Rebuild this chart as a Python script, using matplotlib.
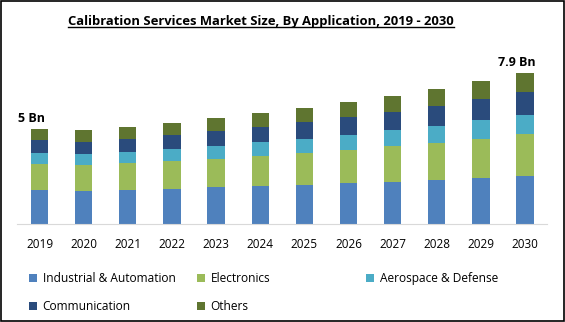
import numpy as np
import matplotlib.pyplot as plt
from matplotlib.patches import Patch, Rectangle
from matplotlib.lines import Line2D

years = ['2019', '2020', '2021', '2022', '2023', '2024',
         '2025', '2026', '2027', '2028', '2029', '2030']
industrial = [1.79, 1.74, 1.79, 1.84, 1.95, 2.00, 2.05, 2.16, 2.21, 2.32, 2.42, 2.53]
electronics = [1.37, 1.37, 1.42, 1.47, 1.47, 1.58, 1.68, 1.74, 1.89, 1.95, 2.05, 2.21]
aerospace = [0.58, 0.58, 0.58, 0.63, 0.68, 0.74, 0.74, 0.79, 0.84, 0.89, 1.00, 1.00]
communication = [0.68, 0.63, 0.68, 0.74, 0.79, 0.79, 0.89, 0.95, 0.95, 1.05, 1.10, 1.21]
others = [0.58, 0.63, 0.63, 0.63, 0.68, 0.74, 0.74, 0.79, 0.84, 0.89, 0.95, 1.00]
series_names = ['Industrial & Automation', 'Electronics', 'Aerospace & Defense',
                'Communication', 'Others']
colors = ['#4f81bd', '#9bbb59', '#4bacc6', '#2a4b7c', '#5f7530']
end_labels = {0: '5 Bn', 11: '7.9 Bn'}

plt.rcParams['font.family'] = ['Open Sans', 'DejaVu Sans']

fig = plt.figure(figsize=(5.65, 3.22), dpi=100)
W, H = 565, 322
ax = fig.add_axes([17.5 / W, 98 / H, 529.6 / W, 164 / H])

series = [industrial, electronics, aerospace, communication, others]
x = np.arange(len(years))
bottom = np.zeros(len(years))
for vals, c in zip(series, colors):
    ax.bar(x, vals, 0.39, bottom=bottom, color=c)
    bottom += np.array(vals)

for i, txt in end_labels.items():
    ax.annotate(txt, (x[i], bottom[i]), xytext=(-8, 4), textcoords='offset pixels',
                ha='center', va='bottom', fontsize=9, fontweight='bold')

ax.set_xlim(-0.5, len(years) - 0.5)
ax.set_ylim(0, 164 / 19)
ax.set_xticks(x)
ax.set_xticklabels(years, fontsize=8.5)
ax.tick_params(axis='x', length=0, pad=10)
ax.set_yticks([])
for s in ['top', 'right', 'left']:
    ax.spines[s].set_visible(False)
ax.spines['bottom'].set_color('#d9d9d9')

title = fig.text(261 / W, 1 - 22 / H, 'Calibration Services Market Size, By Application, 2019 - 2030',
                 ha='center', va='center', fontsize=9.4, fontweight='bold')
fig.canvas.draw()
bb = title.get_window_extent().transformed(fig.transFigure.inverted())
fig.add_artist(Line2D([bb.x0, bb.x1], [bb.y0 + 0.004, bb.y0 + 0.004],
                      transform=fig.transFigure, color='black', lw=1))

handles = [Patch(facecolor=c, edgecolor='none') for c in colors]
columns = [([0, 3], 29), ([1, 4], 197), ([2], 366)]
for idx, xpix in columns:
    leg = fig.legend([handles[i] for i in idx], [series_names[i] for i in idx],
                     loc='upper left', bbox_to_anchor=(xpix / W, 1 - 272 / H),
                     frameon=False, fontsize=8.6, handlelength=0.7, handleheight=0.7,
                     handletextpad=0.45, borderpad=0, borderaxespad=0, labelspacing=1.25)

fig.add_artist(Rectangle((0.001, 0.002), 0.997, 0.995, transform=fig.transFigure,
                         fill=False, edgecolor='black', lw=1.2))

fig.savefig('out.png', dpi=100)
